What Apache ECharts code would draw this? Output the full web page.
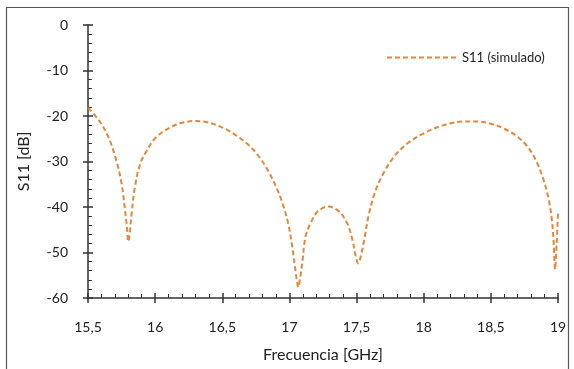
<!DOCTYPE html>
<html>
<head>
<meta charset="utf-8">
<script src="https://cdn.jsdelivr.net/npm/echarts@6/dist/echarts.min.js"></script>
<style>
html,body{margin:0;padding:0;background:#fff;}
#c{width:574px;height:369px;}
</style>
</head>
<body>
<div id="c"></div>
<script>
const seriesName = 'S11 (simulado)';
const freqGHz = [15.50,15.58,15.65,15.71,15.75,15.775,15.79,15.80,15.81,15.825,15.85,15.89,15.94,16.00,16.10,16.20,16.30,16.38,16.45,16.52,16.60,16.70,16.78,16.85,16.90,16.95,16.99,17.02,17.045,17.067,17.08,17.095,17.12,17.16,17.21,17.29,17.37,17.43,17.47,17.495,17.512,17.53,17.555,17.59,17.64,17.70,17.78,17.88,18.00,18.15,18.30,18.40,18.50,18.60,18.70,18.78,18.84,18.89,18.93,18.955,18.968,18.978,18.99,19.00];
const s11dB = [-18.2,-20.9,-24.5,-29.7,-34.8,-40.5,-44.5,-47.6,-46.0,-41.4,-35.5,-30.4,-27.5,-24.9,-22.7,-21.5,-21.1,-21.3,-21.9,-22.8,-24.2,-26.5,-29.2,-32.5,-35.5,-39.3,-43.5,-48.5,-54.0,-57.6,-55.5,-52.4,-46.5,-43.4,-41.0,-39.9,-41.0,-43.6,-47.3,-51.0,-52.4,-51.0,-47.5,-41.8,-36.5,-32.6,-28.9,-26.0,-23.8,-22.0,-21.2,-21.2,-21.7,-22.8,-24.6,-27.0,-30.0,-33.8,-38.2,-43.0,-48.0,-53.7,-48.0,-41.4];
const xTitle = 'Frecuencia [GHz]';
const yTitle = 'S11 [dB]';

const FONT = 'Lato';
const AX = '#333333';
const ORANGE = '#E3873D';
const fmtComma = v => String(+v.toFixed(1)).replace('.', ',');

const chart = echarts.init(document.getElementById('c'), null, {renderer:'canvas'});
const pts = freqGHz.map((f,i)=>[f, s11dB[i]]);

chart.setOption({
  animation:false,
  backgroundColor:'#ffffff',
  graphic:[{type:'rect', shape:{x:6.5,y:7.5,width:562,height:420}, style:{fill:null, stroke:'#595959', lineWidth:1.2}, silent:true, z:-1}],
  grid:{left:88,right:16,top:25,bottom:71,containLabel:false},
  legend:{
    show:true, left:381, top:46, itemWidth:70, itemHeight:12, itemGap:10,
    itemStyle:{opacity:0},
    textStyle:{fontFamily:FONT,fontSize:13,color:'#222'},
    data:[seriesName]
  },
  xAxis:[{
    type:'value', min:15.5, max:19, interval:0.5, position:'bottom',
    name:xTitle, nameLocation:'middle', nameGap:49,
    nameTextStyle:{fontFamily:FONT,fontSize:16,color:'#222'},
    axisLine:{show:true,onZero:false,lineStyle:{color:AX,width:1.5}},
    axisTick:{show:true,inside:true,length:5,lineStyle:{color:AX,width:1.5}},
    minorTick:{show:true,splitNumber:5,length:4,lineStyle:{color:AX,width:1}},
    axisLabel:{fontFamily:FONT,fontSize:14,color:'#222',margin:22,formatter:fmtComma},
    splitLine:{show:false}
  },{
    type:'value', min:15.5, max:19, interval:0.5, position:'bottom',
    axisLine:{show:false,onZero:false},
    axisTick:{show:true,inside:false,length:5,lineStyle:{color:AX,width:1.5}},
    axisLabel:{show:false}, splitLine:{show:false}
  }],
  yAxis:[{
    type:'value', min:-60, max:0, interval:10, position:'left',
    name:yTitle, nameLocation:'middle', nameGap:56,
    nameTextStyle:{fontFamily:FONT,fontSize:16,color:'#222'},
    axisLine:{show:true,onZero:false,lineStyle:{color:AX,width:1.5}},
    axisTick:{show:true,inside:true,length:5,lineStyle:{color:AX,width:1.5}},
    minorTick:{show:true,splitNumber:5,length:4,lineStyle:{color:AX,width:1}},
    axisLabel:{fontFamily:FONT,fontSize:14,color:'#222',margin:20},
    splitLine:{show:false}
  },{
    type:'value', min:-60, max:0, interval:10, position:'left',
    axisLine:{show:false,onZero:false},
    axisTick:{show:true,inside:false,length:5,lineStyle:{color:AX,width:1.5}},
    axisLabel:{show:false}, splitLine:{show:false}
  }],
  series:[{
    name:seriesName, type:'line', data:pts, xAxisIndex:0, yAxisIndex:0,
    showSymbol:false, symbol:'none', smooth:0.35,
    lineStyle:{color:ORANGE,width:2,type:[5,3]},
    itemStyle:{color:ORANGE}
  }]
});
</script>
</body>
</html>
